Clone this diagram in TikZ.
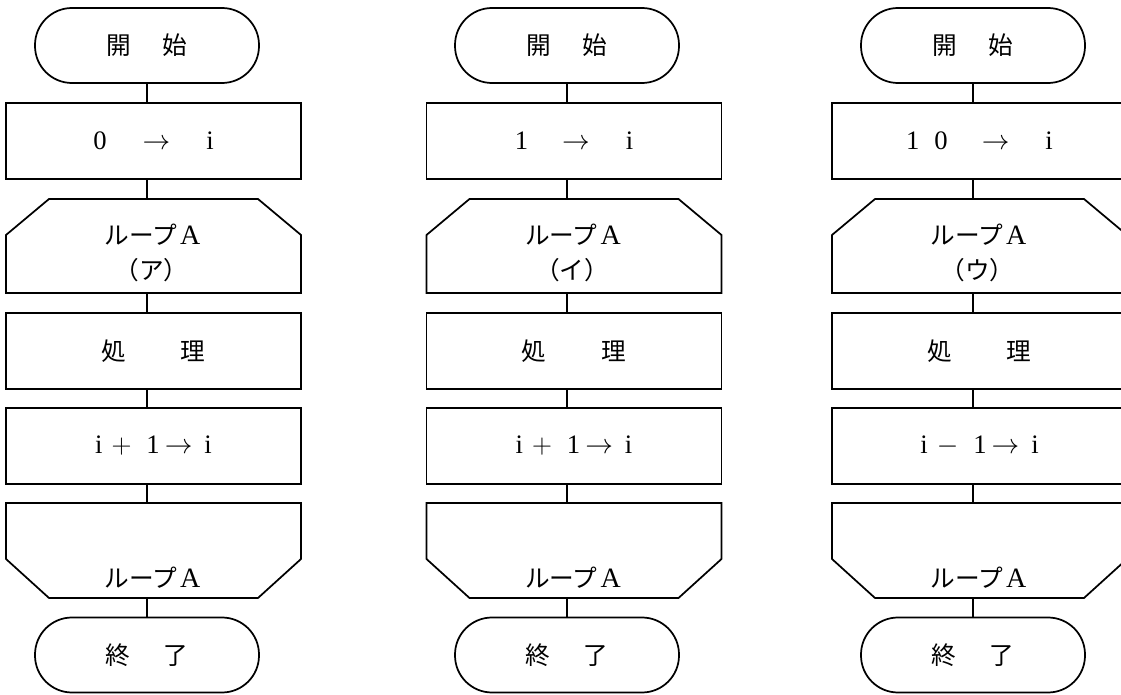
\documentclass[tikz,border=0pt]{standalone}
\usepackage{fontspec}
\setmainfont{Liberation Serif}
\newfontfamily\jp{Noto Sans CJK JP}
\newfontfamily\lat{Liberation Serif}
\usetikzlibrary{calc}
\newdimen\pxu \pxu=0.75pt
\newcommand\jpf{\jp\fontsize{18.5pt}{22pt}\selectfont}
\newcommand\latf{\lat\fontsize{20pt}{22pt}\selectfont}
\newcommand\bigA{{\lat\fontsize{21pt}{22pt}\selectfont A}}
\newcommand\hs[1]{\hspace{#1\pxu}}
\newcommand\arr{$\rightarrow$}
\tikzset{
  ln/.style={line width=1.3pt, line join=miter},
  term/.style={draw, ln, rounded corners=37\pxu, minimum width=224\pxu, minimum height=75\pxu, inner sep=0pt, outer sep=0pt, font=\jpf},
  proc/.style={draw, ln, minimum width=295\pxu, minimum height=76\pxu, inner sep=0pt, outer sep=0pt},
  loopbox/.style={minimum width=295\pxu, inner sep=0pt, outer sep=0pt},
  txt/.style={inner sep=0pt, outer sep=0pt},
}
% #1 prefix, #2 connector x, #3 box centre x, #4 initial text, #5 kana label, #6 step text
\newcommand\flowchart[6]{%
  \node[term] (#1s) at (#2,45.5) {\raisebox{-3\pxu}{開\hs{31}始}};
  \node[proc] (#1b) at (#3,141) {\latf #4};
  \node[loopbox, minimum height=94\pxu] (#1ls) at (#3,246) {};
  \draw[ln] (#1ls.south west) -- ($(#1ls.north west)+(0,36)$) -- ($(#1ls.north west)+(43,0)$)
    -- ($(#1ls.north east)+(-43,0)$) -- ($(#1ls.north east)+(0,36)$) -- (#1ls.south east) -- cycle;
  \node[txt, font=\jpf] (#1la) at ($(#1ls.north)+(-1,36)$) {ループ\hs{3}\bigA};
  \node[txt, font=\jpf] (#1lb) at ($(#1ls.north)+(-2,71)$) {（#5）};
  \node[proc, font=\jpf] (#1p) at (#3,351) {処\hs{55}理};
  \node[proc] (#1i) at (#3,446) {\latf #6};
  \node[loopbox, minimum height=95\pxu] (#1le) at (#3,550.5) {};
  \draw[ln] (#1le.north west) -- (#1le.north east) -- ($(#1le.south east)+(0,-39)$)
    -- ($(#1le.south east)+(-43,0)$) -- ($(#1le.south west)+(43,0)$) -- ($(#1le.south west)+(0,-39)$) -- cycle;
  \node[txt, font=\jpf] (#1lc) at ($(#1le.south)+(-1,-20)$) {ループ\hs{3}\bigA};
  \node[term] (#1e) at (#2,655) {終\hs{33}了};
  \draw[ln] (#1s.south) -- (#1s.south |- #1b.north);
  \draw[ln] (#1s.south |- #1b.south) -- (#1s.south |- #1ls.north);
  \draw[ln] (#1s.south |- #1ls.south) -- (#1s.south |- #1p.north);
  \draw[ln] (#1s.south |- #1p.south) -- (#1s.south |- #1i.north);
  \draw[ln] (#1s.south |- #1i.south) -- (#1s.south |- #1le.north);
  \draw[ln] (#1s.south |- #1le.south) -- (#1e.north);
}
\begin{document}
\begin{tikzpicture}[x=0.75pt, y=-0.75pt]
  \useasboundingbox (0,0) rectangle (1121,695);
  \clip (0,0) rectangle (1121,695);
  \flowchart{a}{147}{153.5}{0\hs{36}\arr\hs{36}i\hs{5}}{ア}{i\hs{9}$+$\hs{15}1\hs{5}\arr\hs{12}i}
  \flowchart{b}{567}{574}{1\hs{34}\arr\hs{36}i}{イ}{i\hs{9}$+$\hs{15}1\hs{5}\arr\hs{12}i}
  \flowchart{c}{973}{979.5}{1\hs{15}0\hs{34}\arr\hs{36}i\hs{5}}{ウ}{i\hs{9}$-$\hs{15}1\hs{5}\arr\hs{12}i}
\end{tikzpicture}
\end{document}
